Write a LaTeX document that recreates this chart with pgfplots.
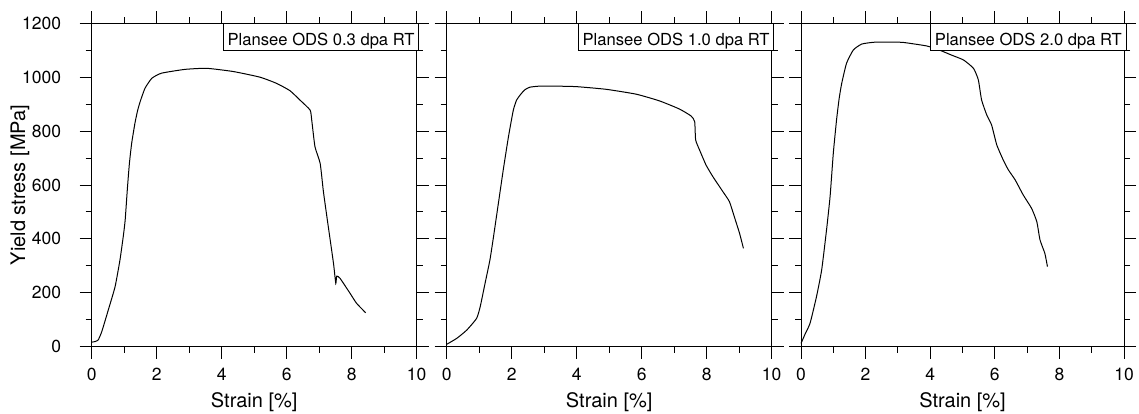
\documentclass[border=0pt]{standalone}
\usepackage{pgfplots}
\pgfplotsset{compat=1.18}
\usepackage{fontspec}
\setmainfont{TeX Gyre Heros}

\pgfplotstableread{
x y
0 17
0.1 19
0.2 25
0.31 56
0.51 136
0.72 223
0.87 322
0.97 408
1.03 470
1.10 590
1.16 680
1.23 755
1.33 829
1.41 875
1.49 909
1.64 959
1.85 996
2.15 1015
2.87 1029
3.54 1033
4.36 1021
5.18 1000
5.69 977
6.10 950
6.41 915
6.72 878
6.77 841
6.87 742
7.03 680
7.13 575
7.28 445
7.44 309
7.51 235
7.54 262
7.64 254
7.95 198
8.15 161
8.43 126
}\dataA

\pgfplotstableread{
x y
0 9
0.31 31
0.62 62
0.92 105
1.03 148
1.18 235
1.33 322
1.44 408
1.59 532
1.74 656
1.90 779
2.05 878
2.15 915
2.26 934
2.40 953
2.56 963
2.87 967
3.28 967
3.99 965
4.91 955
5.83 937
6.55 912
7.16 882
7.52 856
7.63 835
7.66 767
7.78 730
7.98 674
8.19 631
8.50 575
8.70 538
8.85 482
9.01 421
9.13 365
}\dataB

\pgfplotstableread{
x y
0 12
0.12 45
0.28 87
0.48 186
0.64 285
0.79 433
0.90 557
1.0 718
1.1 841
1.18 920
1.26 977
1.41 1052
1.62 1101
1.88 1123
2.29 1130
2.91 1130
3.17 1129
3.89 1116
4.3 1100
4.66 1082
5.03 1064
5.34 1033
5.49 990
5.59 916
5.75 860
5.90 823
6.06 749
6.26 693
6.42 656
6.63 619
6.88 563
7.14 513
7.30 464
7.40 396
7.55 346
7.63 297
}\dataC

\newcommand{\tickfont}{\fontsize{17.5}{20}\selectfont}
\newcommand{\labfont}{\fontsize{20}{24}\selectfont}
\newcommand{\tagfont}{\fontsize{16.6}{19}\selectfont}

\pgfplotsset{
  panel/.style={
    scale only axis,
    width=325pt, height=323.4pt,
    xmin=0, xmax=10, ymin=0, ymax=1200,
    xtick={0,2,...,10}, ytick={0,200,...,1200},
    minor x tick num=1, minor y tick num=1,
    tick align=outside,
    major tick length=12pt, minor tick length=6pt,
    xtick pos=both, ytick pos=both,
    xticklabel pos=bottom, yticklabel pos=left,
    axis line style={line width=1pt},
    every tick/.style={black, line width=1pt},
    /pgf/number format/assume math mode=true,
    /pgf/number format/1000 sep={},
    xticklabel={\tickfont\pgfmathprintnumber{\tick}},
    yticklabel={\tickfont\pgfmathprintnumber{\tick}},
    xticklabel style={inner sep=0pt, anchor=north, yshift=-9pt},
    yticklabel style={inner sep=0pt, anchor=east, xshift=-18.4pt},
    xlabel={\labfont Strain [\%]},
    xlabel style={at={(axis description cs:0.5,0)}, anchor=base, yshift=-61pt},
    clip=false,
  },
  curve/.style={black, line width=1pt, no marks, smooth, tension=0.3},
}
\newcommand{\tag}[1]{\node[draw=black, line width=0.9pt, fill=white, anchor=north east,
  inner xsep=4.3pt, inner ysep=0pt, text height=21.5pt, text depth=5.5pt]
  at (rel axis cs:1,1) [xshift=2.6pt] {\tagfont #1\hspace{4pt}};}

\begin{document}
\begin{tikzpicture}
\useasboundingbox (-91.7pt,-66.3pt) rectangle (1047.3pt,346.7pt);
\begin{axis}[panel, at={(0pt,0pt)}, anchor=south west,
  ylabel={\labfont Yield stress [MPa]},
  ylabel style={at={(axis description cs:-0.2052,0.5)}, anchor=base}]
\addplot[curve] table {\dataA};
\tag{Plansee ODS 0.3 dpa RT}
\end{axis}
\begin{axis}[panel, at={(355pt,0pt)}, anchor=south west, yticklabels={}]
\addplot[curve] table {\dataB};
\tag{Plansee ODS 1.0 dpa RT}
\end{axis}
\begin{axis}[panel, at={(709.3pt,0pt)}, anchor=south west, yticklabels={}, width=323pt]
\addplot[curve] table {\dataC};
\tag{Plansee ODS 2.0 dpa RT}
\end{axis}
\end{tikzpicture}
\end{document}
